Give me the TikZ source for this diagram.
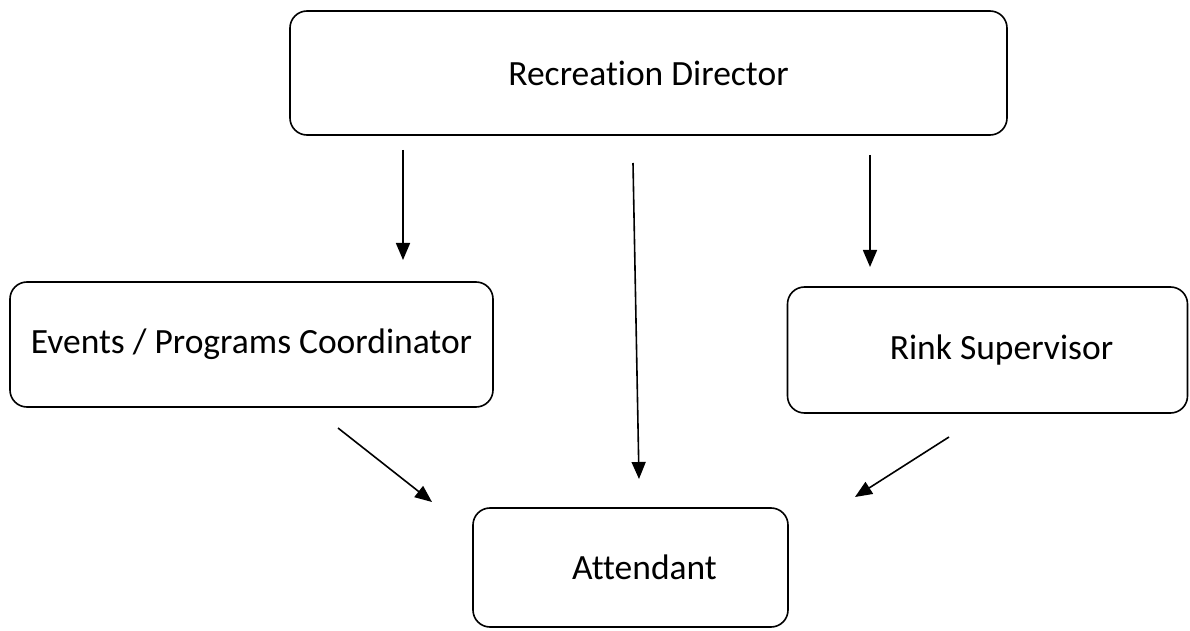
\documentclass[tikz,border=0pt]{standalone}
\usepackage{fontspec}
\setmainfont{Carlito}[Ligatures=CommonOff]
\usetikzlibrary{arrows.meta}
\begin{document}
\begin{tikzpicture}[x=1bp,y=-1bp,
  orgbox/.style={draw=black, line width=1.6bp, rounded corners=17bp, inner sep=0pt,
     font=\fontsize{35.5bp}{40bp}\selectfont, text=black},
  orgarrow/.style={draw=black, line width=1.6bp, -{Triangle[length=17bp,width=14bp]}}]
\useasboundingbox (0,0) rectangle (1190,631);
\fill[white] (0,0) rectangle (1190,631);
\node[orgbox, minimum width=717bp, minimum height=124bp] (rd) at (648.5,73) {Recreation Director};
\node[orgbox, minimum width=483bp, minimum height=125bp] (ev) at (251.5,344.5) {Events / Programs Coordinator};
\node[orgbox, minimum width=400bp, minimum height=126bp] (rs) at (987.5,350) {\hspace*{28bp}Rink Supervisor};
\node[orgbox, minimum width=315bp, minimum height=119bp] (at) at (630.5,567.5) {\hspace*{28bp}Attendant};
\coordinate (a1s) at (403,150);
\coordinate (a1e) at (403,260);
\coordinate (a2s) at (633,163);
\coordinate (a2e) at (639,479);
\coordinate (a3s) at (870,155);
\coordinate (a3e) at (870,267);
\coordinate (a4s) at (338,428);
\coordinate (a4e) at (432,502);
\coordinate (a5s) at (949,437);
\coordinate (a5e) at (855,497);
\draw[orgarrow] (a1s) -- (a1e);
\draw[orgarrow] (a2s) -- (a2e);
\draw[orgarrow] (a3s) -- (a3e);
\draw[orgarrow] (a4s) -- (a4e);
\draw[orgarrow] (a5s) -- (a5e);
\end{tikzpicture}
\end{document}
